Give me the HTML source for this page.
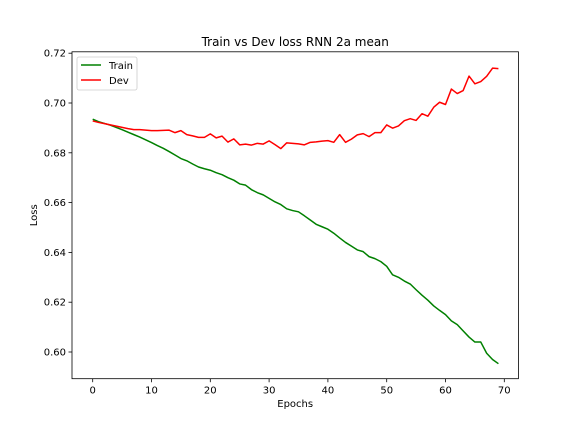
<!DOCTYPE html>
<html><head><meta charset="utf-8"><style>
body{margin:0;background:#fff;}
svg{display:block;font-family:"DejaVu Sans","Liberation Sans",sans-serif;}
</style></head><body>
<svg id="c" width="576" height="432"></svg>
<script>
const epochs=[];for(let i=0;i<70;i++)epochs.push(i);
const trainLoss=[0.6935,0.6925,0.6918,0.6911,0.6902,0.6893,0.6883,0.6873,0.6863,0.6852,
0.6841,0.6829,0.6818,0.6805,0.6791,0.6777,0.6768,0.6755,0.6743,0.6736,
0.6730,0.6720,0.6712,0.6700,0.6690,0.6675,0.6670,0.6652,0.6640,0.6631,
0.6617,0.6603,0.6592,0.6575,0.6568,0.6563,0.6547,0.6530,0.6513,0.6503,
0.6493,0.6477,0.6458,0.6440,0.6425,0.6410,0.6403,0.6383,0.6375,0.6363,
0.6344,0.6310,0.6300,0.6285,0.6273,0.6250,0.6228,0.6208,0.6185,0.6167,
0.6150,0.6125,0.6110,0.6085,0.6060,0.6040,0.6040,0.5995,0.5970,0.5953];
const devLoss=[0.6928,0.6922,0.6917,0.6912,0.6907,0.6902,0.6897,0.6893,0.6893,0.6891,
0.6889,0.6889,0.6890,0.6891,0.6881,0.6889,0.6873,0.6868,0.6862,0.6862,
0.6876,0.6860,0.6867,0.6843,0.6856,0.6832,0.6835,0.6831,0.6838,0.6835,
0.6848,0.6833,0.6817,0.6840,0.6838,0.6836,0.6832,0.6842,0.6844,0.6847,
0.6849,0.6842,0.6873,0.6842,0.6855,0.6872,0.6877,0.6865,0.6881,0.6881,
0.6912,0.6899,0.6908,0.6929,0.6937,0.6930,0.6957,0.6947,0.6983,0.7003,
0.6994,0.7056,0.7038,0.7050,0.7108,0.7077,0.7086,0.7107,0.7140,0.7138];
const xTicks=[0,10,20,30,40,50,60,70];
const yTicks=[0.60,0.62,0.64,0.66,0.68,0.70,0.72];
const L=72,R=518.4,T=51.8,B=378.7;
const X=v=>92.7+v*5.88;
const Y=v=>352.0-(v-0.60)*2490;
const svg=document.getElementById('c');
const NS='http://www.w3.org/2000/svg';
function mk(tag,attrs,parent){const e=document.createElementNS(NS,tag);for(const k in attrs)e.setAttribute(k,attrs[k]);(parent||svg).appendChild(e);return e;}
let t;
xTicks.forEach(v=>{
 const g=mk('g',{});
 
 
 mk('line',{x1:X(v),x2:X(v),y1:B,y2:B+3.5,stroke:'#000','stroke-width':0.8},g);
 t=mk('text',{x:X(v),y:B+15,'font-size':10,'text-anchor':'middle'},g);t.textContent=v;
});
yTicks.forEach(v=>{
 const g=mk('g',{});
 
 
 mk('line',{x1:L-3.5,x2:L,y1:Y(v),y2:Y(v),stroke:'#000','stroke-width':0.8},g);
 t=mk('text',{x:L-6,y:Y(v)+3.5,'font-size':10,'text-anchor':'end'},g);t.textContent=v.toFixed(2);
});
function line(data,color,name){
 const p=mk('polyline',{points:data.map((v,i)=>X(epochs[i])+','+Y(v)).join(' '),fill:'none',stroke:color,'stroke-width':1.5,'stroke-linejoin':'round'});
 
 
}
line(trainLoss,'#008000','train-line');
line(devLoss,'#ff0000','dev-line');
const fr=mk('rect',{x:L,y:T,width:R-L,height:B-T,fill:'none',stroke:'#000','stroke-width':0.8});


t=mk('text',{x:(L+R)/2,y:T-6,'font-size':12,'text-anchor':'middle'});t.textContent='Train vs Dev loss RNN 2a mean';


t=mk('text',{x:(L+R)/2,y:407,'font-size':10,'text-anchor':'middle'});t.textContent='Epochs';


t=mk('text',{x:37,y:(T+B)/2,'font-size':10,'text-anchor':'middle',transform:'rotate(-90 37 '+((T+B)/2)+')'});t.textContent='Loss';


const lg=mk('g',{});


mk('rect',{x:77,y:57,width:60,height:33,rx:2,fill:'#fff',stroke:'#ccc','stroke-width':0.8},lg);
mk('line',{x1:81,x2:101,y1:65,y2:65,stroke:'#008000','stroke-width':1.5},lg);
t=mk('text',{x:109,y:69,'font-size':10},lg);t.textContent='Train';


mk('line',{x1:81,x2:101,y1:80,y2:80,stroke:'#ff0000','stroke-width':1.5},lg);
t=mk('text',{x:109,y:84,'font-size':10},lg);t.textContent='Dev';


</script>
</body></html>
